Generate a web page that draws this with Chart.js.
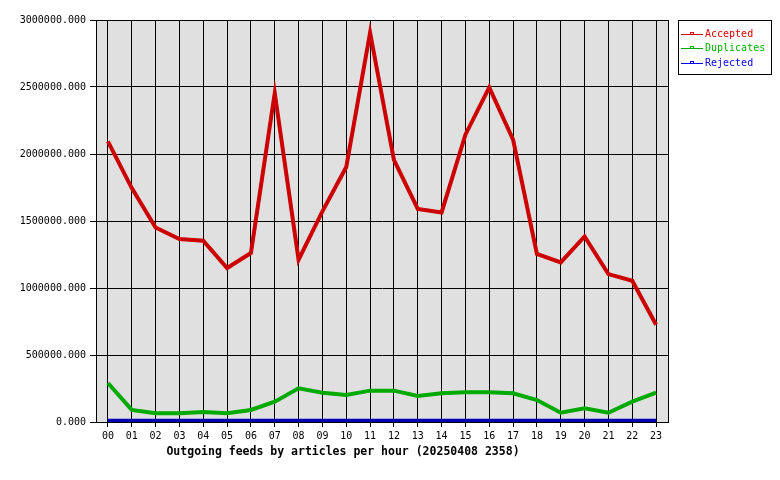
<!DOCTYPE html>
<html>
<head>
<meta charset="utf-8">
<script src="https://cdn.jsdelivr.net/npm/chart.js@4/dist/chart.umd.min.js"></script>
<style>
  html, body { margin: 0; padding: 0; background: #fff; }
  #wrap { width: 780px; height: 480px; position: relative; }
</style>
</head>
<body>
<div id="wrap"><canvas id="feedChart"></canvas></div>
<script>
var hours = ['00','01','02','03','04','05','06','07','08','09','10','11',
             '12','13','14','15','16','17','18','19','20','21','22','23'];
var accepted = [2094000, 1746000, 1452000, 1366000, 1353000, 1149000, 1261000, 2455000,
                1211000, 1572000, 1903000, 2905000, 1957000, 1590000, 1564000, 2144000,
                2497000, 2107000, 1254000, 1191000, 1385000, 1104000, 1054000, 726000];
var duplicates = [291000, 90000, 65000, 65000, 75000, 65000, 90000, 152000,
                  251000, 219000, 201000, 234000, 234000, 194000, 214000, 222000,
                  222000, 214000, 164000, 69000, 102000, 69000, 152000, 219000];
var rejected = [10000, 10000, 10000, 10000, 10000, 10000, 10000, 10000,
                10000, 10000, 10000, 10000, 10000, 10000, 10000, 10000,
                10000, 10000, 10000, 10000, 10000, 10000, 10000, 10000];
var chartTitle = 'Outgoing feeds by articles per hour (20250408 2358)';

var mono = "'DejaVu Sans Mono', 'Liberation Mono', monospace";

// grey plot background and black frame
var framePlugin = {
    id: 'frame',
    beforeDraw: function (chart) {
        var a = chart.chartArea, ctx = chart.ctx;
        ctx.save();
        ctx.fillStyle = '#e0e0e0';
        ctx.fillRect(a.left, a.top, a.right - a.left, a.bottom - a.top);
        ctx.restore();
    },
    beforeDatasetsDraw: function (chart) {
        var a = chart.chartArea, ctx = chart.ctx;
        ctx.save();
        ctx.strokeStyle = '#000';
        ctx.lineWidth = 1;
        ctx.strokeRect(a.left + 0.5, a.top + 0.5, a.right - a.left, a.bottom - a.top);
        ctx.restore();
    },
    afterDraw: function (chart) {
        var ctx = chart.ctx;
        ctx.save();
        // title under the axis
        ctx.font = 'bold 11.5px ' + mono;
        ctx.fillStyle = '#000';
        ctx.textAlign = 'center';
        ctx.textBaseline = 'middle';
        ctx.fillText(chartTitle, 343, 452);

        // boxed legend
        var bx = 678, by = 20, bw = 93, bh = 54;
        ctx.fillStyle = '#fff';
        ctx.fillRect(bx, by, bw, bh);
        ctx.strokeStyle = '#000';
        ctx.lineWidth = 1;
        ctx.strokeRect(bx + 0.5, by + 0.5, bw, bh);
        ctx.font = '10px ' + mono;
        ctx.textAlign = 'left';
        chart.data.datasets.forEach(function (ds, i) {
            var y = by + 13.5 + i * 14.5;
            ctx.strokeStyle = ds.legendColor;
            ctx.beginPath();
            ctx.moveTo(bx + 3, Math.round(y) + 0.5);
            ctx.lineTo(bx + 25, Math.round(y) + 0.5);
            ctx.stroke();
            ctx.strokeRect(bx + 12.5, Math.round(y) - 1.5, 3, 2);
            ctx.fillStyle = ds.legendColor;
            ctx.fillText(ds.label, bx + 27, y + 0.5);
        });
        ctx.restore();
    }
};

var ctx = document.getElementById('feedChart');
var feedChart = new Chart(ctx, {
    type: 'line',
    data: {
        labels: hours,
        datasets: [
            { label: 'Accepted', data: accepted, borderColor: '#cc0000', legendColor: '#dd0000',
              borderWidth: 4, pointRadius: 0, tension: 0 },
            { label: 'Duplicates', data: duplicates, borderColor: '#00aa00', legendColor: '#00b000',
              borderWidth: 4, pointRadius: 0, tension: 0 },
            { label: 'Rejected', data: rejected, borderColor: '#0000b0', legendColor: '#0000ee',
              borderWidth: 4, pointRadius: 0, tension: 0, clip: 0 }
        ]
    },
    options: {
        responsive: true,
        maintainAspectRatio: false,
        animation: false,
        layout: { padding: { top: 20, right: 112, bottom: 0, left: 0 } },
        plugins: {
            legend: { display: false },
            tooltip: { enabled: false }
        },
        scales: {
            x: {
                offset: true,
                grid: { color: '#000', lineWidth: 1, offset: false, tickLength: 5, drawOnChartArea: true },
                border: { color: '#000' },
                ticks: { color: '#000', font: { family: mono, size: 10 }, padding: 3,
                         maxRotation: 0, autoSkip: false },
                afterFit: function (s) { s.height = 58; }
            },
            y: {
                min: 0,
                max: 3000000,
                grid: { color: '#000', lineWidth: 1, tickLength: 6 },
                border: { color: '#000' },
                ticks: {
                    stepSize: 500000,
                    color: '#000',
                    font: { family: mono, size: 10 },
                    padding: 4,
                    callback: function (v) { return v.toFixed(3); }
                },
                afterFit: function (s) { s.width = 96; }
            }
        }
    },
    plugins: [framePlugin]
});
</script>
</body>
</html>
